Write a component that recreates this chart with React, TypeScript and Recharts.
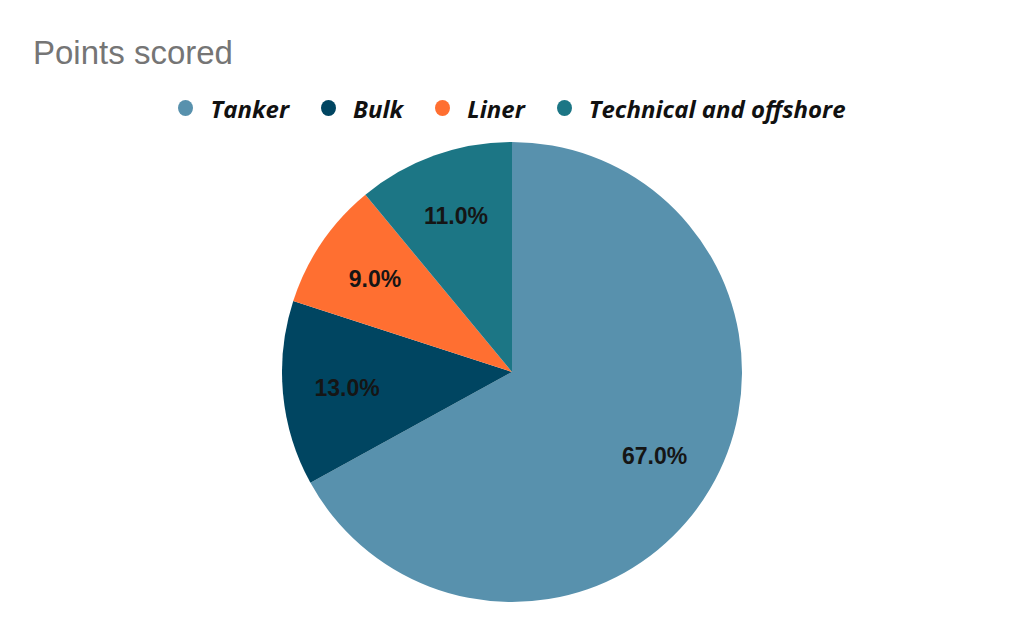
import React from "react";
import { PieChart, Pie, Cell } from "recharts";

const categories = ["Tanker", "Bulk", "Liner", "Technical and offshore"];
const values = [67, 13, 9, 11];
const colors = ["#5891AD", "#004561", "#FF6F31", "#1C7685"];

const data = categories.map((name, i) => ({ name, value: values[i] }));
const total = values.reduce((a, b) => a + b, 0);

const RAD = Math.PI / 180;

const renderLabel = (props: any) => {
  const { cx, cy, midAngle, outerRadius, value } = props;
  const r = outerRadius * 0.72;
  const x = cx + r * Math.cos(-midAngle * RAD);
  const y = cy + r * Math.sin(-midAngle * RAD);
  return (
    <text
      x={x}
      y={y}
      fill="#151515"
      textAnchor="middle"
      dominantBaseline="central"
      fontFamily="'Liberation Sans', Arial, sans-serif"
      fontWeight="bold"
      fontSize={23}
    >
      {((value / total) * 100).toFixed(1) + "%"}
    </text>
  );
};

const LegendBlock = () => (
  <div
    style={{
      position: "absolute",
      top: 92,
      left: 0,
      width: 1024,
      height: 32,
      display: "flex",
      justifyContent: "center",
      alignItems: "center",
      gap: 32,
      fontFamily: "'Open Sans', sans-serif",
      fontWeight: 700,
      fontStyle: "italic",
      fontSize: 24,
      color: "#111",
    }}
  >
    {categories.map((c, i) => (
      <div key={c} style={{ display: "flex", alignItems: "center" }}>
        <span
          style={{
            display: "inline-block",
            width: 15,
            height: 16,
            borderRadius: "50%",
            background: colors[i],
            marginRight: 17,
          }}
        />
        <span>{c}</span>
      </div>
    ))}
  </div>
);

export default function App() {
  return (
    <div style={{ position: "absolute", left: 0, top: 0, width: 1024, height: 633, background: "#fff" }}>
      <div
        style={{
          position: "absolute",
          left: 33,
          top: 33,
          fontFamily: "'Liberation Sans', Arial, sans-serif",
          fontSize: 33,
          color: "#757575",
          lineHeight: "40px",
        }}
      >
        Points scored
      </div>
      <LegendBlock />
      <div style={{ position: "absolute", left: 0, top: 0 }}>
        <PieChart width={1024} height={633} margin={{ top: 0, right: 0, bottom: 0, left: 0 }}>
          <Pie
            data={data}
            dataKey="value"
            nameKey="name"
            cx={512}
            cy={372}
            outerRadius={230}
            startAngle={90}
            endAngle={-270}
            stroke="none"
            label={renderLabel}
            labelLine={false}
            isAnimationActive={false}
          >
            {data.map((d, i) => (
              <Cell key={d.name} fill={colors[i]} />
            ))}
          </Pie>
        </PieChart>
      </div>
    </div>
  );
}
